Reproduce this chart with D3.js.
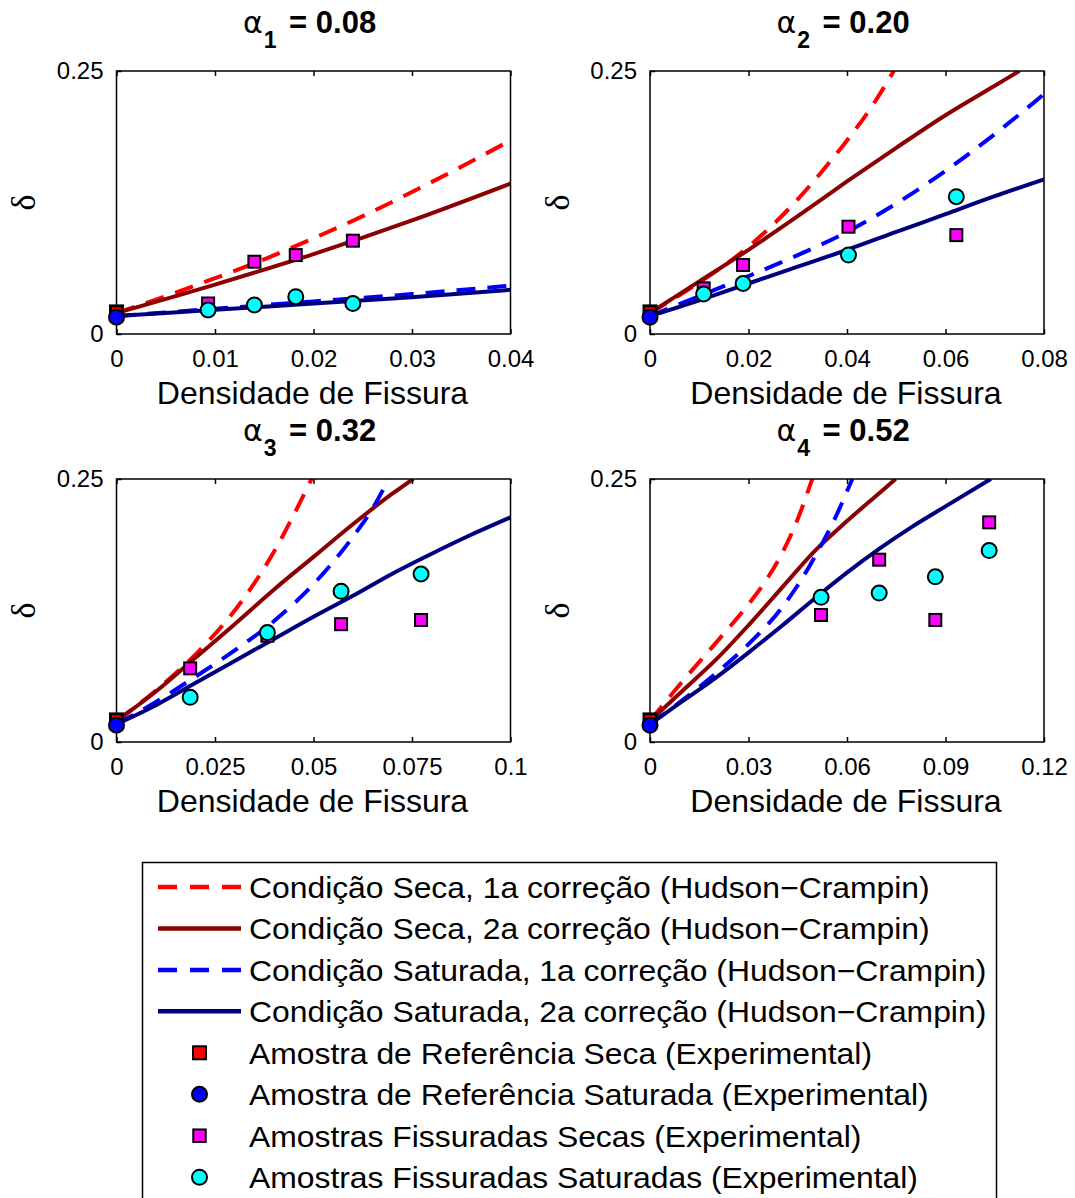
<!DOCTYPE html>
<html>
<head>
<meta charset="utf-8">
<script src="https://cdn.jsdelivr.net/npm/d3@7"></script>
<style>
  html, body { margin: 0; padding: 0; background: #fff; }
  svg { display: block; font-family: "Liberation Sans", Arial, Helvetica, sans-serif; }
</style>
</head>
<body>
<svg id="chart" width="1075" height="1198"></svg>
<script>
// ---- Panel titles and axes ----
const alphaIndex = ["1", "2", "3", "4"];
const alphaValue = ["0.08", "0.20", "0.32", "0.52"];
const xMax = [0.04, 0.08, 0.1, 0.12];
const xTicks = [
  [0, 0.01, 0.02, 0.03, 0.04],
  [0, 0.02, 0.04, 0.06, 0.08],
  [0, 0.025, 0.05, 0.075, 0.1],
  [0, 0.03, 0.06, 0.09, 0.12]
];
const xTickLabels = [
  ["0", "0.01", "0.02", "0.03", "0.04"],
  ["0", "0.02", "0.04", "0.06", "0.08"],
  ["0", "0.025", "0.05", "0.075", "0.1"],
  ["0", "0.03", "0.06", "0.09", "0.12"]
];
const yTicks = [0, 0.25];
const yTickLabels = ["0", "0.25"];
const xAxisTitle = "Densidade de Fissura";
const yAxisTitle = "δ";

// ---- Model curves: [crack density, delta] for each panel ----
// Dry condition, 1st correction (Hudson-Crampin)
const secaHC1 = [
  [[0, 0.020], [0.005, 0.036], [0.01, 0.053], [0.015, 0.071], [0.02, 0.091], [0.025, 0.112], [0.03, 0.135], [0.035, 0.159], [0.04, 0.184]],
  [[0, 0.020], [0.01, 0.049], [0.02, 0.083], [0.03, 0.128], [0.035, 0.155], [0.04, 0.184], [0.045, 0.216], [0.0495, 0.25]],
  [[0, 0.020], [0.01, 0.049], [0.02, 0.083], [0.03, 0.125], [0.035, 0.151], [0.04, 0.181], [0.045, 0.216], [0.0495, 0.25]],
  [[0, 0.020], [0.01, 0.058], [0.02, 0.094], [0.03, 0.131], [0.035, 0.152], [0.04, 0.178], [0.045, 0.212], [0.0494, 0.25]]
];
// Dry condition, 2nd correction (Hudson-Crampin)
const secaHC2 = [
  [[0, 0.020], [0.01, 0.047], [0.02, 0.076], [0.03, 0.108], [0.04, 0.143]],
  [[0, 0.020], [0.01, 0.050], [0.02, 0.080], [0.03, 0.112], [0.04, 0.145], [0.05, 0.177], [0.06, 0.208], [0.07, 0.236], [0.075, 0.25]],
  [[0, 0.020], [0.01, 0.048], [0.02, 0.080], [0.03, 0.112], [0.04, 0.145], [0.05, 0.176], [0.06, 0.207], [0.07, 0.236], [0.0753, 0.25]],
  [[0, 0.020], [0.01, 0.049], [0.02, 0.078], [0.03, 0.111], [0.04, 0.146], [0.05, 0.181], [0.06, 0.210], [0.07, 0.237], [0.0748, 0.25]]
];
// Saturated condition, 1st correction (Hudson-Crampin)
const saturadaHC1 = [
  [[0, 0.017], [0.01, 0.024], [0.02, 0.031], [0.03, 0.038], [0.04, 0.046]],
  [[0, 0.017], [0.01, 0.036], [0.02, 0.055], [0.03, 0.075], [0.04, 0.097], [0.05, 0.124], [0.06, 0.155], [0.07, 0.190], [0.08, 0.228]],
  [[0, 0.017], [0.01, 0.038], [0.02, 0.062], [0.03, 0.087], [0.04, 0.115], [0.05, 0.150], [0.06, 0.195], [0.065, 0.222], [0.0691, 0.25]],
  [[0, 0.017], [0.01, 0.040], [0.02, 0.065], [0.03, 0.093], [0.04, 0.127], [0.045, 0.149], [0.05, 0.175], [0.0558, 0.209], [0.0616, 0.25]]
];
// Saturated condition, 2nd correction (Hudson-Crampin)
const saturadaHC2 = [
  [[0, 0.017], [0.01, 0.023], [0.02, 0.029], [0.03, 0.035], [0.04, 0.042]],
  [[0, 0.017], [0.01, 0.032], [0.02, 0.048], [0.03, 0.064], [0.04, 0.080], [0.05, 0.097], [0.06, 0.114], [0.07, 0.131], [0.08, 0.147]],
  [[0, 0.017], [0.01, 0.035], [0.02, 0.056], [0.03, 0.077], [0.04, 0.098], [0.05, 0.119], [0.06, 0.139], [0.07, 0.160], [0.08, 0.179], [0.09, 0.197], [0.1, 0.2136]],
  [[0, 0.017], [0.01, 0.039], [0.02, 0.061], [0.03, 0.085], [0.04, 0.110], [0.05, 0.136], [0.06, 0.161], [0.07, 0.184], [0.08, 0.205], [0.09, 0.224], [0.1038, 0.25]]
];

// ---- Experimental samples ----
const refSeca = [0.021, 0.021, 0.021, 0.021];          // reference sample, dry (density 0)
const refSaturada = [0.016, 0.016, 0.016, 0.016];      // reference sample, saturated (density 0)
const fissDensity = [
  [0.0093, 0.014, 0.0182, 0.024],
  [0.0109, 0.0189, 0.0403, 0.0622],
  [0.0187, 0.0383, 0.057, 0.0773],
  [0.0521, 0.0698, 0.0869, 0.1033]
];
const fissSeca = [
  [0.029, 0.0687, 0.075, 0.0887],
  [0.0434, 0.0656, 0.102, 0.094],
  [0.070, 0.101, 0.112, 0.116],
  [0.1207, 0.1733, 0.116, 0.2088]
];
const fissSaturada = [
  [0.0228, 0.0276, 0.0355, 0.029],
  [0.038, 0.048, 0.075, 0.1305],
  [0.0425, 0.104, 0.1432, 0.1597],
  [0.1375, 0.1416, 0.157, 0.182]
];

// ---- Legend ----
const legendLabels = [
  "Condição Seca, 1a correção (Hudson−Crampin)",
  "Condição Seca, 2a correção (Hudson−Crampin)",
  "Condição Saturada, 1a correção (Hudson−Crampin)",
  "Condição Saturada, 2a correção (Hudson−Crampin)",
  "Amostra de Referência Seca (Experimental)",
  "Amostra de Referência Saturada (Experimental)",
  "Amostras Fissuradas Secas (Experimental)",
  "Amostras Fissuradas Saturadas (Experimental)"
];

// ---- Styles ----
const lineStyles = [
  { color: "#ff0000", dash: "19,12" },
  { color: "#8b0000", dash: null },
  { color: "#0000ff", dash: "19,12" },
  { color: "#00007f", dash: null }
];
const LINE_W = 4;
const COL_REF_SECA = "#ff0000";
const COL_REF_SAT = "#0000ff";
const COL_FISS_SECA = "#ff00ff";
const COL_FISS_SAT = "#00ffff";

// ---- Layout ----
const panelLeft = [116.5, 650, 116.5, 650];
const panelTop = [71, 71, 479, 479];
const PW = 394, PH = 263;

const svg = d3.select("#chart");

function squareMarker(g, cx, cy, side, fill, sw = 2) {
  g.append("rect")
    .attr("x", cx - side / 2).attr("y", cy - side / 2)
    .attr("width", side).attr("height", side)
    .attr("fill", fill).attr("stroke", "#000").attr("stroke-width", sw);
}
function circleMarker(g, cx, cy, r, fill) {
  g.append("circle")
    .attr("cx", cx).attr("cy", cy).attr("r", r)
    .attr("fill", fill).attr("stroke", "#000").attr("stroke-width", 2);
}

const curveSets = [secaHC1, secaHC2, saturadaHC1, saturadaHC2];

for (let i = 0; i < 4; i++) {
  const g = svg.append("g").attr("transform", `translate(${panelLeft[i]},${panelTop[i]})`);
  const x = d3.scaleLinear().domain([0, xMax[i]]).range([0, PW]);
  const y = d3.scaleLinear().domain([0, 0.25]).range([PH, 0]);

  // clip region for the curves
  const clipId = "clip" + i;
  g.append("clipPath").attr("id", clipId)
    .append("rect").attr("x", 0).attr("y", 0).attr("width", PW).attr("height", PH);

  // model curves
  const line = d3.line().x(d => x(d[0])).y(d => y(d[1])).curve(d3.curveMonotoneX);
  const curves = g.append("g").attr("clip-path", `url(#${clipId})`);
  curveSets.forEach((set, k) => {
    curves.append("path")
      .attr("d", line(set[i]))
      .attr("fill", "none")
      .attr("stroke", lineStyles[k].color)
      .attr("stroke-width", LINE_W)
      .attr("stroke-dasharray", lineStyles[k].dash)
      .attr("stroke-linejoin", "round");
  });

  // axes box
  g.append("rect").attr("x", 0).attr("y", 0).attr("width", PW).attr("height", PH)
    .attr("fill", "none").attr("stroke", "#000").attr("stroke-width", 1.5);

  // bottom axis with labels, ticks pointing inward
  const xb = g.append("g").attr("transform", `translate(0,${PH})`)
    .call(d3.axisBottom(x).tickValues(xTicks[i])
      .tickFormat((d, j) => xTickLabels[i][j])
      .tickSizeInner(-5).tickSizeOuter(0).tickPadding(16));
  // top axis, ticks only
  const xt = g.append("g")
    .call(d3.axisTop(x).tickValues(xTicks[i]).tickFormat("")
      .tickSizeInner(-5).tickSizeOuter(0));
  // left axis
  const yl = g.append("g")
    .call(d3.axisLeft(y).tickValues(yTicks)
      .tickFormat((d, j) => yTickLabels[j])
      .tickSizeInner(-5).tickSizeOuter(0).tickPadding(13));
  [xb, xt, yl].forEach(a => {
    a.select(".domain").remove();
    a.attr("font-size", 24).attr("font-family", "Liberation Sans, Arial, sans-serif");
    a.selectAll("line").attr("stroke-width", 1.5);
    a.selectAll("text").attr("fill", "#000");
  });

  // experimental markers
  const m = g.append("g");
  squareMarker(m, x(0), y(refSeca[i]), 12, COL_REF_SECA, 3);
  circleMarker(m, x(0), y(refSaturada[i]), 7.5, COL_REF_SAT);
  fissDensity[i].forEach((d, j) => squareMarker(m, x(d), y(fissSeca[i][j]), 12, COL_FISS_SECA));
  fissDensity[i].forEach((d, j) => circleMarker(m, x(d), y(fissSaturada[i][j]), 7.5, COL_FISS_SAT));

  // x-axis title
  g.append("text").attr("x", PW / 2 - 1).attr("y", PH + 70)
    .attr("text-anchor", "middle").attr("font-size", 32).attr("fill", "#000")
    .text(xAxisTitle);

  // y-axis title
  g.append("text")
    .attr("transform", `translate(${-93},${PH / 2}) rotate(-90)`)
    .attr("text-anchor", "middle").attr("dominant-baseline", "central")
    .attr("font-family", "Liberation Serif, serif")
    .attr("font-size", 34).attr("fill", "#000")
    .text(yAxisTitle);

  // panel title: alpha with subscript index
  const t = g.append("text").attr("x", PW / 2 - 4).attr("y", -38)
    .attr("text-anchor", "middle").attr("font-size", 31)
    .attr("font-weight", "bold").attr("fill", "#000");
  t.append("tspan").attr("font-family", "DejaVu Sans, sans-serif")
    .attr("font-weight", "normal").attr("font-size", 30).text("α");
  t.append("tspan").attr("dy", 15).attr("dx", 1).attr("font-size", 23).text(alphaIndex[i]);
  t.append("tspan").attr("dy", -15).attr("dx", 4).text(" = " + alphaValue[i]);
}

// ---- Legend ----
const lg = svg.append("g");
lg.append("rect").attr("x", 142.5).attr("y", 862.5).attr("width", 854).attr("height", 400)
  .attr("fill", "#fff").attr("stroke", "#000").attr("stroke-width", 1.5);

const rowY = d => 887 + 41.45 * d;
legendLabels.forEach((label, k) => {
  const cy = rowY(k);
  if (k < 4) {
    lg.append("line").attr("x1", 158).attr("x2", 241).attr("y1", cy).attr("y2", cy)
      .attr("stroke", lineStyles[k].color).attr("stroke-width", LINE_W + 0.5)
      .attr("stroke-dasharray", lineStyles[k].dash ? "19,13" : null);
  } else if (k === 4) {
    squareMarker(lg, 199.5, cy, 13, COL_REF_SECA);
  } else if (k === 5) {
    circleMarker(lg, 199.5, cy, 7.5, COL_REF_SAT);
  } else if (k === 6) {
    squareMarker(lg, 199.5, cy, 12.5, COL_FISS_SECA);
  } else {
    circleMarker(lg, 199.5, cy, 7.5, COL_FISS_SAT);
  }
  lg.append("text")
    .attr("transform", `translate(249,${cy + 11}) scale(1.08,1)`)
    .attr("font-size", 29.5).attr("fill", "#000")
    .text(label);
});
</script>
</body>
</html>
